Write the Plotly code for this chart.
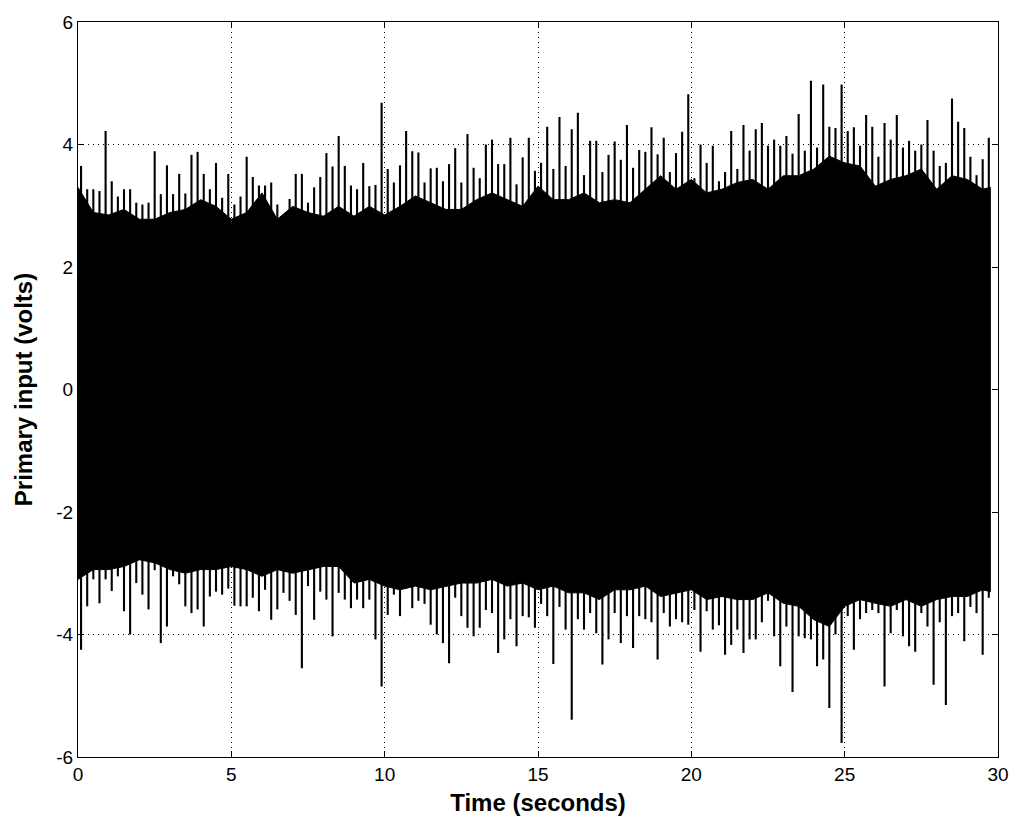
import plotly.graph_objects as go
import numpy as np

# peak value per 0.2 s bin (tallest excursion above / below the dense band)
BIN = 0.2
upper_peak = [
    3.65, 3.27, 3.27, 3.24, 4.22, 3.40, 3.15, 3.27, 3.27, 3.05,
    3.02, 3.05, 3.89, 3.19, 3.66, 3.19, 3.52, 3.20, 3.83, 3.88,
    3.52, 3.27, 3.70, 3.13, 3.52, 3.02, 3.15, 3.80, 3.47, 3.33,
    3.33, 3.38, 3.02, 2.85, 3.11, 3.52, 3.52, 3.05, 3.30, 3.47,
    3.86, 3.64, 4.14, 3.65, 3.33, 3.27, 3.70, 3.32, 3.34, 4.68,
    3.60, 3.38, 3.66, 4.22, 3.89, 3.87, 3.38, 3.61, 3.62, 3.40,
    3.68, 3.94, 3.38, 4.17, 3.62, 3.45, 4.00, 4.08, 3.68, 3.68,
    4.11, 3.35, 3.79, 4.11, 3.57, 3.70, 4.29, 3.60, 4.45, 3.65,
    4.25, 4.52, 3.50, 4.06, 4.06, 3.55, 3.83, 4.05, 3.75, 4.32,
    3.62, 3.91, 3.88, 4.28, 3.84, 4.11, 3.55, 3.86, 4.21, 4.82,
    3.45, 4.00, 3.70, 3.98, 3.40, 3.55, 4.22, 3.60, 4.32, 3.90,
    4.25, 4.35, 3.98, 4.08, 3.98, 4.14, 3.85, 4.50, 3.90, 5.04,
    3.95, 4.98, 4.29, 4.27, 4.98, 4.22, 4.28, 3.98, 4.48, 4.29,
    3.80, 4.35, 4.08, 4.48, 3.95, 4.06, 3.90, 4.00, 4.40, 3.90,
    3.65, 3.70, 4.75, 4.37, 4.27, 3.80, 3.50, 3.76, 4.11,
]
lower_peak = [
    -4.25, -3.54, -3.10, -3.49, -3.10, -3.29, -3.05, -3.62, -4.00, -3.16,
    -3.35, -3.59, -2.95, -4.14, -3.87, -3.05, -3.18, -3.54, -3.65, -3.59,
    -3.87, -3.38, -3.30, -3.35, -3.25, -3.53, -3.54, -3.54, -3.40, -3.62,
    -3.27, -3.76, -3.59, -3.32, -3.45, -3.68, -4.55, -3.21, -3.76, -3.30,
    -3.43, -4.03, -3.32, -3.43, -3.57, -3.43, -3.57, -3.43, -4.08, -4.85,
    -3.68, -3.35, -3.70, -3.25, -3.57, -3.45, -3.50, -3.84, -4.00, -4.14,
    -4.47, -3.40, -3.70, -3.89, -4.03, -3.89, -3.60, -3.65, -4.30, -4.08,
    -3.75, -4.19, -3.70, -3.72, -3.89, -3.50, -3.70, -4.48, -3.55, -3.92,
    -5.39, -3.75, -3.92, -3.65, -3.98, -4.49, -4.08, -3.65, -4.14, -3.70,
    -4.22, -3.70, -3.75, -3.80, -4.41, -3.65, -3.87, -3.75, -3.80, -3.84,
    -3.60, -4.28, -3.62, -3.92, -3.85, -4.33, -4.17, -3.92, -4.30, -4.08,
    -4.08, -3.80, -3.45, -4.03, -4.52, -3.87, -4.94, -4.03, -4.06, -4.08,
    -4.52, -4.41, -5.20, -4.00, -5.77, -3.70, -4.25, -3.75, -3.65, -3.60,
    -3.65, -4.85, -3.98, -3.60, -4.03, -4.19, -4.28, -3.65, -3.87, -4.82,
    -3.80, -5.15, -3.70, -3.65, -4.11, -3.55, -3.65, -4.33, -3.40,
]

# edges of the dense band, read every 0.5 s
body_t = [
    0, 0.5, 1, 1.5, 2, 2.5, 3, 3.5, 4, 4.5,
    5, 5.5, 6, 6.5, 7, 7.5, 8, 8.5, 9, 9.5,
    10, 10.5, 11, 11.5, 12, 12.5, 13, 13.5, 14, 14.5,
    15, 15.5, 16, 16.5, 17, 17.5, 18, 18.5, 19, 19.5,
    20, 20.5, 21, 21.5, 22, 22.5, 23, 23.5, 24, 24.5,
    25, 25.5, 26, 26.5, 27, 27.5, 28, 28.5, 29, 29.5, 29.75,
]
upper_body = [
    3.30, 2.89, 2.85, 2.94, 2.78, 2.78, 2.89, 2.94, 3.10, 2.99,
    2.78, 2.89, 3.21, 2.78, 2.99, 2.89, 2.83, 2.99, 2.83, 2.99,
    2.85, 2.99, 3.16, 3.05, 2.94, 2.94, 3.10, 3.21, 3.10, 2.99,
    3.32, 3.10, 3.10, 3.21, 3.05, 3.10, 3.05, 3.27, 3.49, 3.27,
    3.43, 3.21, 3.27, 3.38, 3.43, 3.27, 3.49, 3.49, 3.60, 3.81,
    3.70, 3.65, 3.32, 3.43, 3.49, 3.60, 3.27, 3.49, 3.43, 3.27, 3.30,
]
lower_body = [
    -3.10, -2.94, -2.94, -2.89, -2.78, -2.83, -2.94, -3.00, -2.94, -2.94,
    -2.89, -2.94, -3.05, -2.94, -3.00, -2.94, -2.89, -2.89, -3.16, -3.10,
    -3.21, -3.27, -3.21, -3.27, -3.21, -3.16, -3.16, -3.10, -3.21, -3.16,
    -3.27, -3.21, -3.32, -3.32, -3.43, -3.27, -3.27, -3.21, -3.38, -3.32,
    -3.27, -3.43, -3.38, -3.43, -3.43, -3.32, -3.49, -3.54, -3.76, -3.87,
    -3.54, -3.43, -3.49, -3.54, -3.43, -3.54, -3.43, -3.38, -3.38, -3.27, -3.30,
]

y_ticks = [-6, -4, -2, 0, 2, 4, 6]
y_labels = ["-6", "-4", "-2", "0", "2", "4", "6"]
x_ticks = [0, 5, 10, 15, 20, 25, 30]

t_peak = BIN / 2 + BIN * np.arange(len(upper_peak))

fig = go.Figure()

# dense band
fig.add_trace(go.Scatter(
    x=body_t + body_t[::-1],
    y=upper_body + lower_body[::-1],
    fill="toself",
    fillcolor="black",
    mode="lines",
    line=dict(color="black", width=1),
    hoverinfo="skip",
    showlegend=False,
))

# individual excursions as vertical strokes
for peaks in (upper_peak, lower_peak):
    xs, ys = [], []
    for t, p in zip(t_peak, peaks):
        xs += [t, t, None]
        ys += [0, p, None]
    fig.add_trace(go.Scatter(
        x=xs, y=ys,
        mode="lines",
        line=dict(color="black", width=2.1),
        hoverinfo="skip",
        showlegend=False,
    ))

axis_style = dict(
    showline=True,
    linecolor="black",
    linewidth=1,
    mirror="ticks",
    ticks="inside",
    ticklen=6,
    tickcolor="black",
    showgrid=True,
    gridcolor="black",
    gridwidth=1,
    griddash="1px,4px",
    zeroline=False,
    automargin=False,
    tickfont=dict(family="Liberation Sans", size=19, color="black"),
)
title_font = dict(family="Liberation Sans", size=24, color="black", weight="bold")

fig.update_xaxes(
    range=[0, 30],
    tickvals=x_ticks,
    title=dict(text="Time (seconds)", standoff=10, font=title_font),
    **axis_style,
)
fig.update_yaxes(
    range=[-6, 6],
    tickvals=y_ticks,
    ticktext=y_labels,
    title=dict(text="Primary input (volts)", standoff=16, font=title_font),
    **axis_style,
)

# the page body adds an 8 px offset, margins below account for it
fig.update_layout(
    width=1024,
    height=827,
    margin=dict(l=70, r=34, t=14, b=78),
    plot_bgcolor="white",
    paper_bgcolor="white",
)

fig.write_html("out.html")
